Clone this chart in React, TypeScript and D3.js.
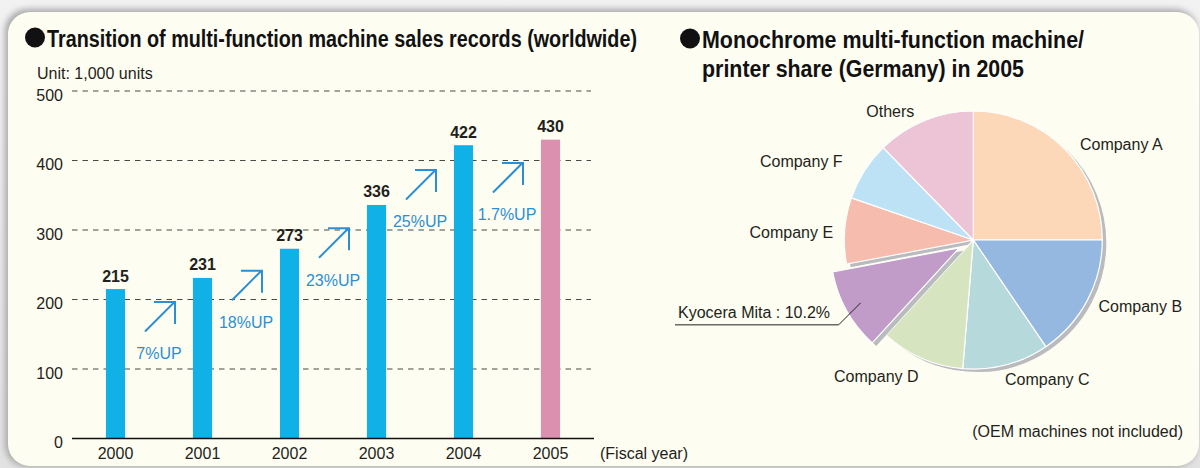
import React from "react";
import * as d3 from "d3";

// bar chart data
const years = ["2000", "2001", "2002", "2003", "2004", "2005"];
const sales = [215, 231, 273, 336, 422, 430];
const growth = ["7%UP", "18%UP", "23%UP", "25%UP", "1.7%UP"];
const yTicks = [0, 100, 200, 300, 400, 500];

// pie data
const companies = [
  "Company A",
  "Company B",
  "Company C",
  "Company D",
  "Kyocera Mita",
  "Company E",
  "Company F",
  "Others",
];
const shares = [25.0, 15.5, 10.8, 10.5, 10.2, 8.3, 7.4, 12.3];
const sliceColors = [
  "#fcd8b8",
  "#94b8e0",
  "#b6d9db",
  "#d6e5c0",
  "#c19cc8",
  "#f6bcad",
  "#bde2f6",
  "#ecc4d6",
];

// layout helpers (not data)
const arrowLevels = [154, 199, 260, 344, 354];
const labelOffsets: [number, number][] = [
  [148, -96],
  [167, 66],
  [74, 139],
  [-97, 136],
  [0, 0],
  [-182, -8],
  [-172, -79],
  [-83, -129],
];

const FONT = "'Liberation Sans', Arial, Helvetica, sans-serif";
const CREAM = "#fdfdf1";
const TEXT = "#231f20";
const BLUE = "#10b1e7";
const PINK = "#dc90af";
const ARROW = "#2c8fd4";

const BarChart = () => {
  const x = d3
    .scaleBand()
    .domain(years)
    .range([72, 594])
    .paddingInner(0.78)
    .paddingOuter(0.39);
  const y = d3.scaleLinear().domain([0, 500]).range([438.5, 91]);
  const bw = x.bandwidth();

  return (
    <g fontFamily={FONT}>
      <text x={37} y={79} fontSize={16} fill={TEXT}>
        Unit: 1,000 units
      </text>
      {yTicks.map((t) => (
        <g key={t}>
          {t > 0 && (
            <line
              x1={72}
              x2={591}
              y1={y(t)}
              y2={y(t)}
              stroke="#4a4a48"
              strokeWidth={1.2}
              strokeDasharray="5.5,5"
            />
          )}
          <text x={63} y={y(t) + 9.5} textAnchor="end" fontSize={16} fill={TEXT}>
            {t}
          </text>
        </g>
      ))}
      {years.map((yr, i) => (
        <g key={yr}>
          <rect
            x={x(yr)}
            y={y(sales[i])}
            width={bw}
            height={y(0) - y(sales[i])}
            fill={i === years.length - 1 ? PINK : BLUE}
          />
          <text
            x={x(yr)! + bw / 2}
            y={y(sales[i]) - 7.5}
            textAnchor="middle"
            fontSize={16}
            fontWeight="bold"
            fill={TEXT}
          >
            {sales[i]}
          </text>
          <text
            x={x(yr)! + bw / 2}
            y={459}
            textAnchor="middle"
            fontSize={16}
            fill={TEXT}
          >
            {yr}
          </text>
        </g>
      ))}
      <line x1={72} x2={594} y1={y(0)} y2={y(0)} stroke="#111" strokeWidth={1.5} />
      <text x={600} y={459} fontSize={16} fill={TEXT}>
        (Fiscal year)
      </text>
      {growth.map((g, i) => {
        const cx = (x(years[i])! + x(years[i + 1])!) / 2 + bw / 2;
        const by = y(arrowLevels[i]);
        const top = by - 29.5;
        return (
          <g key={g}>
            <g stroke={ARROW} strokeWidth={2} fill="none">
              <line x1={cx - 14} y1={by} x2={cx + 15.5} y2={top} />
              <path d={`M${cx - 5},${top} H${cx + 16} V${top + 22}`} />
            </g>
            <text
              x={cx}
              y={by + 28}
              textAnchor="middle"
              fontSize={16}
              fill={ARROW}
              stroke={CREAM}
              strokeWidth={4}
              paintOrder="stroke"
            >
              {g}
            </text>
          </g>
        );
      })}
    </g>
  );
};

const PieChart = () => {
  const cx = 973.3;
  const cy = 240;
  const r = 129;
  const kyo = 4;
  const explode = 16;
  const pie = d3.pie<number>().sort(null).value((d) => d);
  const arcs = pie(shares);
  const arc = d3.arc<d3.PieArcDatum<number>>().innerRadius(0).outerRadius(r);
  const off = (a: d3.PieArcDatum<number>, dist: number) => {
    const m = (a.startAngle + a.endAngle) / 2;
    return [Math.sin(m) * dist, -Math.cos(m) * dist];
  };
  const shadow = "#babbbf";
  const [kx, ky] = off(arcs[kyo], explode);
  const [lx, ly] = off(arcs[kyo], r);
  const elbowX = cx + lx - 22;
  const elbowY = cy + ly + 22;

  return (
    <g fontFamily={FONT}>
      <g transform={`translate(${cx},${cy})`}>
        {arcs.map((a, i) =>
          i === kyo ? null : (
            <path key={"s" + i} d={arc(a)!} fill={shadow} transform="translate(4,3)" />
          )
        )}
        {arcs.map((a, i) =>
          i === kyo ? null : (
            <path key={"p" + i} d={arc(a)!} fill={sliceColors[i]} stroke="#fff" strokeWidth={1.2} />
          )
        )}
        <g transform={`translate(${kx},${ky})`}>
          <path d={arc(arcs[kyo])!} fill={shadow} transform="translate(4,3)" />
          <path d={arc(arcs[kyo])!} fill={sliceColors[kyo]} stroke="#fff" strokeWidth={1.2} />
        </g>
      </g>
      {companies.map((c, i) =>
        i === kyo ? null : (
          <text
            key={c}
            x={cx + labelOffsets[i][0]}
            y={cy + labelOffsets[i][1] + 5.8}
            textAnchor="middle"
            fontSize={16}
            fill={TEXT}
          >
            {c}
          </text>
        )
      )}
      <polyline
        points={`675,${elbowY} ${elbowX},${elbowY} ${cx + lx},${cy + ly}`}
        fill="none"
        stroke={TEXT}
        strokeWidth={1}
      />
      <text x={678} y={elbowY - 7} fontSize={16} fill={TEXT}>
        {`${companies[kyo]} : ${shares[kyo]}%`}
      </text>
      <text x={1183} y={437} textAnchor="end" fontSize={16} fill={TEXT}>
        (OEM machines not included)
      </text>
    </g>
  );
};

const Title = ({ x, y, lines, widths }: { x: number; y: number; lines: string[]; widths: number[] }) => (
  <g fontFamily={FONT} fontWeight="bold" fill="#111">
    <circle cx={x} cy={y - 9.5} r={10} fill="#111" />
    {lines.map((l, i) => (
      <text
        key={l}
        x={x + 12}
        y={y + i * 29}
        fontSize={23}
        textLength={widths[i]}
        lengthAdjust="spacingAndGlyphs"
      >
        {l}
      </text>
    ))}
  </g>
);

export default function App() {
  return (
    <svg
      width={1200}
      height={468}
      style={{ position: "absolute", left: 0, top: 0, display: "block" }}
    >
      <defs>
        <linearGradient id="bg" x1="0" y1="0" x2="0" y2="1">
          <stop offset="0" stopColor="#f2f2f2" />
          <stop offset="1" stopColor="#e2e2e2" />
        </linearGradient>
        <filter id="sh" x="-5%" y="-5%" width="110%" height="110%">
          <feGaussianBlur stdDeviation="3" />
        </filter>
      </defs>
      <rect width={1200} height={468} fill="url(#bg)" />
      <rect x={5} y={9} width={1192} height={458} rx={22} fill="#a9a9a9" filter="url(#sh)" />
      <rect x={8} y={12} width={1191} height={454} rx={22} fill={CREAM} />
      <Title
        x={35}
        y={47}
        lines={["Transition of multi-function machine sales records (worldwide)"]}
        widths={[590]}
      />
      <Title
        x={690}
        y={48}
        lines={["Monochrome multi-function machine/", "printer share (Germany) in 2005"]}
        widths={[382, 322]}
      />
      <BarChart />
      <PieChart />
    </svg>
  );
}
